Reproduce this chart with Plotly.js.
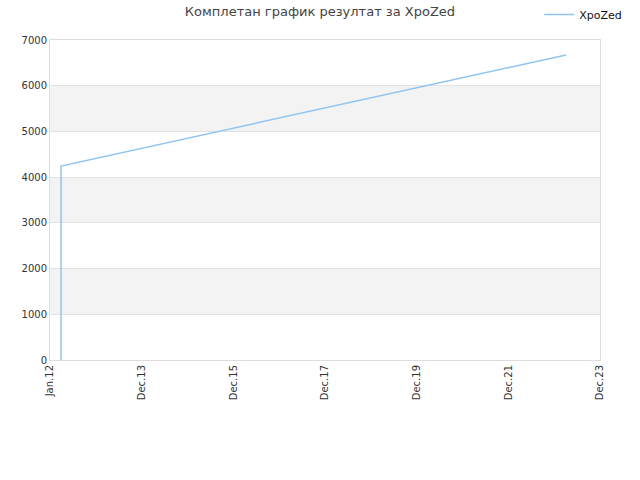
<!DOCTYPE html>
<html>
<head>
<meta charset="utf-8">
<script src="https://cdn.plot.ly/plotly-3.0.1.min.js"></script>
<style>
  html, body { margin:0; padding:0; background:#fff; }
  #chart { width:640px; height:480px; }
</style>
</head>
<body>
<div id="chart"></div>
<script>
// values
const dates  = ['2012-03-28', '2012-03-28', '2023-04-05'];
const scores = [0, 4244, 6672];
const tickDates  = ['2011-12-31','2013-12-31','2015-12-31','2017-12-31','2019-12-31','2021-12-31','2023-12-31'];
const tickLabels = ['Jan.12','Dec.13','Dec.15','Dec.17','Dec.19','Dec.21','Dec.23'];
const bandLows  = [1000, 3000, 5000];
const bandHighs = [2000, 4000, 6000];

const chartEl = document.getElementById('chart');

const bands = bandLows.map((lo, i) => ({
  type:'rect', xref:'paper', yref:'y', x0:0, x1:1, y0:lo, y1:bandHighs[i],
  fillcolor:'#f3f3f3', line:{width:0}, layer:'below'
}));

const data = [{
  x: dates,
  y: scores,
  type:'scatter',
  mode:'lines',
  name:'XpoZed',
  line:{ color:'#90c4f2', width:1.5 },
  hoverinfo:'none'
}];

const layout = {
  width:640, height:480,
  margin:{l:50, r:40, t:40, b:120, autoexpand:false},
  paper_bgcolor:'#fff',
  plot_bgcolor:'#fff',
  font:{ family:'DejaVu Sans, sans-serif', size:11, color:'#333' },
  title:{ text:'Комплетан график резултат за XpoZed', x:0.5, xanchor:'center', y:0.985, yanchor:'top',
          font:{ size:13, color:'#444' } },
  showlegend:true,
  legend:{ xref:'container', yref:'container', x:0.98, xanchor:'right', y:1, yanchor:'top',
           font:{ size:11, color:'#111' }, bgcolor:'rgba(0,0,0,0)' },
  xaxis:{
    type:'date',
    range:['2011-12-31','2023-12-31'],
    tickmode:'array', tickvals:tickDates, ticktext:tickLabels,
    tickangle:-90, showgrid:false, zeroline:false,
    showline:true, mirror:true, linecolor:'#ddd', linewidth:1,
    tickfont:{ size:10, color:'#333' }
  },
  yaxis:{
    range:[0,7000], dtick:1000, tick0:0,
    showgrid:true, gridcolor:'#e2e2e2', zeroline:false,
    showline:true, mirror:true, linecolor:'#ddd', linewidth:1,
    tickfont:{ size:10, color:'#333' }
  },
  shapes: bands
};

Plotly.newPlot(chartEl, data, layout, { displayModeBar:false, staticPlot:true });
</script>
</body>
</html>
